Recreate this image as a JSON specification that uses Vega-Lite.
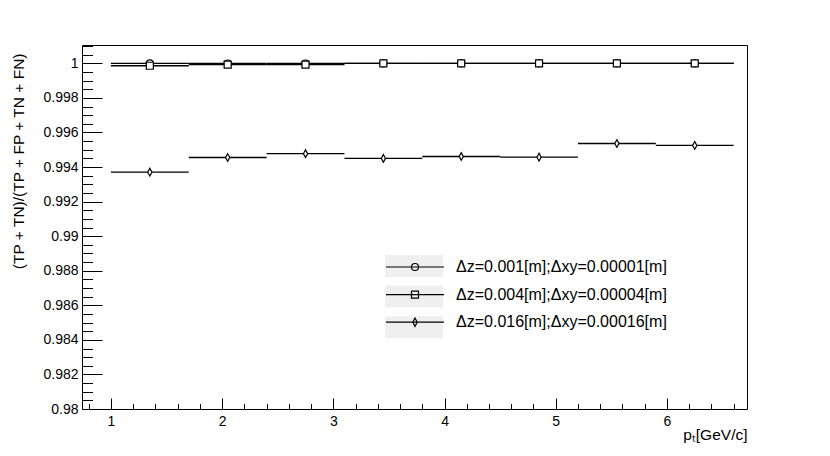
{
  "$schema": "https://vega.github.io/schema/vega-lite/v6.json",
  "width": 665,
  "height": 364,
  "autosize": "none",
  "padding": {"left": 82, "top": 45, "right": 83, "bottom": 47},
  "background": "white",
  "config": {
    "view": {"stroke": "black", "strokeWidth": 1},
    "font": "Liberation Sans",
    "axis": {
      "grid": false, "domain": false, "labelFont": "Liberation Sans", "titleFont": "Liberation Sans",
      "labelColor": "black", "titleColor": "black", "tickColor": "black", "tickWidth": 1,
      "labelFontSize": 14, "titleFontSize": 15.5, "titleFontWeight": "normal", "labelFlush": false, "labelOverlap": false
    }
  },
  "data": {
    "values": [
      {"series": "Δz=0.001[m];Δxy=0.00001[m]", "pt": 1.35, "lo": 1.0, "hi": 1.7, "eff": 1.0},
      {"series": "Δz=0.001[m];Δxy=0.00001[m]", "pt": 2.05, "lo": 1.7, "hi": 2.4, "eff": 0.99999},
      {"series": "Δz=0.001[m];Δxy=0.00001[m]", "pt": 2.75, "lo": 2.4, "hi": 3.1, "eff": 0.99999},
      {"series": "Δz=0.001[m];Δxy=0.00001[m]", "pt": 3.45, "lo": 3.1, "hi": 3.8, "eff": 1.0},
      {"series": "Δz=0.001[m];Δxy=0.00001[m]", "pt": 4.15, "lo": 3.8, "hi": 4.5, "eff": 1.0},
      {"series": "Δz=0.001[m];Δxy=0.00001[m]", "pt": 4.85, "lo": 4.5, "hi": 5.2, "eff": 1.0},
      {"series": "Δz=0.001[m];Δxy=0.00001[m]", "pt": 5.55, "lo": 5.2, "hi": 5.9, "eff": 1.0},
      {"series": "Δz=0.001[m];Δxy=0.00001[m]", "pt": 6.25, "lo": 5.9, "hi": 6.6, "eff": 1.0},
      {"series": "Δz=0.004[m];Δxy=0.00004[m]", "pt": 1.35, "lo": 1.0, "hi": 1.7, "eff": 0.99986},
      {"series": "Δz=0.004[m];Δxy=0.00004[m]", "pt": 2.05, "lo": 1.7, "hi": 2.4, "eff": 0.99992},
      {"series": "Δz=0.004[m];Δxy=0.00004[m]", "pt": 2.75, "lo": 2.4, "hi": 3.1, "eff": 0.99992},
      {"series": "Δz=0.004[m];Δxy=0.00004[m]", "pt": 3.45, "lo": 3.1, "hi": 3.8, "eff": 1.0},
      {"series": "Δz=0.004[m];Δxy=0.00004[m]", "pt": 4.15, "lo": 3.8, "hi": 4.5, "eff": 1.0},
      {"series": "Δz=0.004[m];Δxy=0.00004[m]", "pt": 4.85, "lo": 4.5, "hi": 5.2, "eff": 1.0},
      {"series": "Δz=0.004[m];Δxy=0.00004[m]", "pt": 5.55, "lo": 5.2, "hi": 5.9, "eff": 1.0},
      {"series": "Δz=0.004[m];Δxy=0.00004[m]", "pt": 6.25, "lo": 5.9, "hi": 6.6, "eff": 1.0},
      {"series": "Δz=0.016[m];Δxy=0.00016[m]", "pt": 1.35, "lo": 1.0, "hi": 1.7, "eff": 0.9937},
      {"series": "Δz=0.016[m];Δxy=0.00016[m]", "pt": 2.05, "lo": 1.7, "hi": 2.4, "eff": 0.99455},
      {"series": "Δz=0.016[m];Δxy=0.00016[m]", "pt": 2.75, "lo": 2.4, "hi": 3.1, "eff": 0.99477},
      {"series": "Δz=0.016[m];Δxy=0.00016[m]", "pt": 3.45, "lo": 3.1, "hi": 3.8, "eff": 0.9945},
      {"series": "Δz=0.016[m];Δxy=0.00016[m]", "pt": 4.15, "lo": 3.8, "hi": 4.5, "eff": 0.99461},
      {"series": "Δz=0.016[m];Δxy=0.00016[m]", "pt": 4.85, "lo": 4.5, "hi": 5.2, "eff": 0.99457},
      {"series": "Δz=0.016[m];Δxy=0.00016[m]", "pt": 5.55, "lo": 5.2, "hi": 5.9, "eff": 0.99536},
      {"series": "Δz=0.016[m];Δxy=0.00016[m]", "pt": 6.25, "lo": 5.9, "hi": 6.6, "eff": 0.99525}
    ]
  },
  "resolve": {"axis": {"x": "independent", "y": "independent"}, "scale": {"shape": "independent"}},
  "layer": [
    {
      "mark": {"type": "rule", "color": "black", "strokeWidth": 1.3},
      "encoding": {
        "x": {
          "field": "lo", "type": "quantitative",
          "scale": {"domain": [0.74, 6.72], "nice": false, "zero": false},
          "axis": {
            "orient": "bottom", "values": [1, 2, 3, 4, 5, 6], "ticks": false, "labelPadding": 5,
            "title": "pₜ[GeV/c]", "titleX": 665, "titleY": 25, "titleAlign": "right", "titleBaseline": "middle", "titleAngle": 0
          }
        },
        "x2": {"field": "hi"},
        "y": {
          "field": "eff", "type": "quantitative",
          "scale": {"domain": [0.98, 1.00106], "nice": false, "zero": false},
          "axis": {
            "orient": "left", "values": [0.98, 0.982, 0.984, 0.986, 0.988, 0.99, 0.992, 0.994, 0.996, 0.998, 1],
            "format": "~g", "ticks": false, "labelPadding": 4,
            "title": "(TP + TN)/(TP + FP + TN + FN)", "titleX": -64, "titleY": 8, "titleAngle": 270,
            "titleAlign": "right", "titleBaseline": "middle"
          }
        }
      }
    },
    {
      "mark": {"type": "point", "filled": true, "fill": "white", "stroke": "black", "strokeWidth": 1.2, "size": 49, "opacity": 1},
      "encoding": {
        "x": {
          "field": "pt", "type": "quantitative",
          "scale": {"domain": [0.74, 6.72], "nice": false, "zero": false},
          "axis": {"orient": "bottom", "values": [1, 2, 3, 4, 5, 6], "tickSize": -11, "labels": false, "title": null}
        },
        "y": {
          "field": "eff", "type": "quantitative",
          "scale": {"domain": [0.98, 1.00106], "nice": false, "zero": false},
          "axis": {"orient": "left", "values": [0.98, 0.982, 0.984, 0.986, 0.988, 0.99, 0.992, 0.994, 0.996, 0.998, 1], "tickSize": -20, "labels": false, "title": null}
        },
        "shape": {
          "field": "series", "type": "nominal",
          "scale": {"range": ["circle", "square", "M0,-1.1L0.6,0L0,1.1L-0.6,0Z"]},
          "legend": null
        }
      }
    },
    {
      "mark": {"type": "point", "shape": "M-2.9,-1.1H2.9V1.1H-2.9Z", "filled": true, "opacity": 0},
      "encoding": {
        "fill": {
          "field": "series", "type": "nominal",
          "scale": {"domain": ["Δz=0.001[m];Δxy=0.00001[m]", "Δz=0.004[m];Δxy=0.00004[m]", "Δz=0.016[m];Δxy=0.00016[m]"], "range": ["#efefef", "#efefef", "#efefef"]},
          "legend": {
            "orient": "none", "legendX": 322, "legendY": 211, "title": null, "padding": 0,
            "symbolSize": 400, "symbolStrokeWidth": 0, "symbolType": "M-2.9,-1.1H2.9V1.1H-2.9Z",
            "labelExpr": "''", "labelFontSize": 16, "labelFont": "Liberation Sans", "labelOffset": 32, "labelLimit": 400,
            "rowPadding": 8.6, "zindex": 0, "symbolOpacity": 1,
            "encode": {"symbols": {"update": {"opacity": {"value": 1}, "fillOpacity": {"value": 1}, "strokeWidth": {"value": 0}, "shape": {"value": "M-2.9,-1.1H2.9V1.1H-2.9Z"}}}}
          }
        }
      }
    },
    {
      "mark": {"type": "point", "filled": false, "stroke": "black", "opacity": 0},
      "encoding": {
        "x": {
          "field": "pt", "type": "quantitative",
          "scale": {"domain": [0.74, 6.72], "nice": false, "zero": false},
          "axis": {"orient": "bottom", "values": [0.8, 1.2, 1.4, 1.6, 1.8, 2.2, 2.4, 2.6, 2.8, 3.2, 3.4, 3.6, 3.8, 4.2, 4.4, 4.6, 4.8, 5.2, 5.4, 5.6, 5.8, 6.2, 6.4, 6.6], "tickSize": -5.5, "labels": false, "title": null}
        },
        "y": {
          "field": "eff", "type": "quantitative",
          "scale": {"domain": [0.98, 1.00106], "nice": false, "zero": false},
          "axis": {"orient": "left", "values": [0.9805, 0.981, 0.9815, 0.9825, 0.983, 0.9835, 0.9845, 0.985, 0.9855, 0.9865, 0.987, 0.9875, 0.9885, 0.989, 0.9895, 0.9905, 0.991, 0.9915, 0.9925, 0.993, 0.9935, 0.9945, 0.995, 0.9955, 0.9965, 0.997, 0.9975, 0.9985, 0.999, 0.9995, 1.0005, 1.001], "tickSize": -10.5, "labels": false, "title": null}
        },
        "shape": {
          "field": "series", "type": "nominal",
          "scale": {"range": [
            "M-2.9,0H2.9M-0.35,0A0.35,0.35,0,1,0,0.35,0A0.35,0.35,0,1,0,-0.35,0",
            "M-2.9,0H2.9M-0.35,-0.35H0.35V0.35H-0.35Z",
            "M-2.9,0H2.9M0,-0.42L0.22,0L0,0.42L-0.22,0Z"
          ]},
          "legend": {
            "orient": "none", "legendX": 322, "legendY": 211, "title": null, "padding": 0,
            "symbolSize": 400, "symbolStrokeColor": "black", "symbolStrokeWidth": 1.2, "symbolFillColor": "transparent",
            "labelFontSize": 16, "labelFont": "Liberation Sans", "labelColor": "black", "labelOffset": 30, "labelLimit": 400,
            "rowPadding": 8.6, "zindex": 1, "symbolOpacity": 1,
            "encode": {"symbols": {"update": {"opacity": {"value": 1}, "fill": {"value": "transparent"}, "stroke": {"value": "black"}, "strokeWidth": {"value": 1.2}}}}
          }
        }
      }
    }
  ]
}
